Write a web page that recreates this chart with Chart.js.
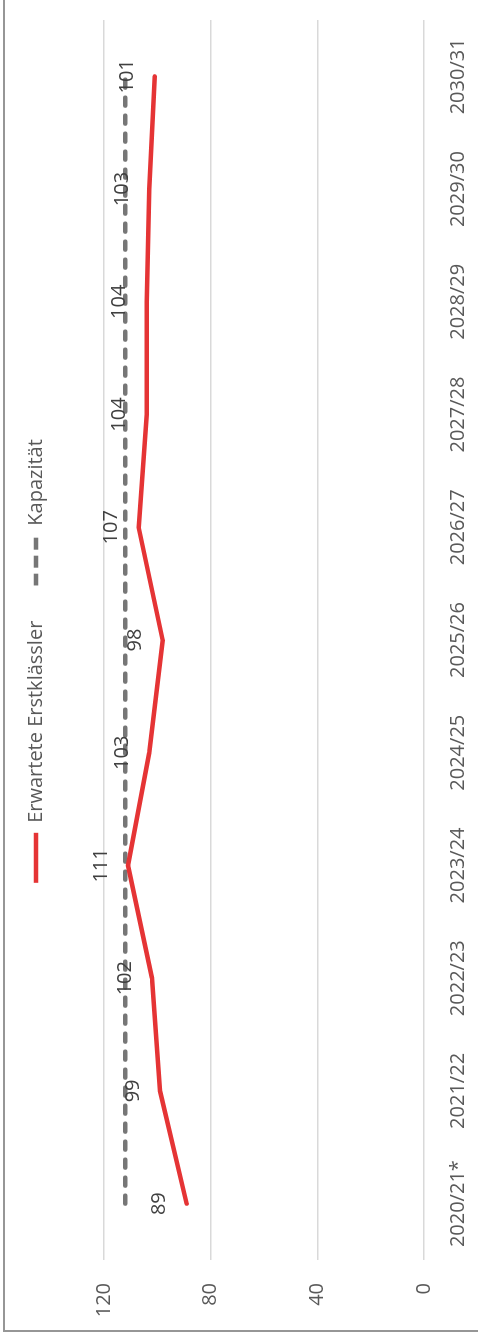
<!DOCTYPE html>
<html>
<head>
<meta charset="utf-8">
<script src="https://cdn.jsdelivr.net/npm/chart.js@4.4.1/dist/chart.umd.min.js"></script>
<style>
  html, body { margin: 0; padding: 0; background: #fff; }
  body { width: 478px; height: 1338px; position: relative; overflow: hidden; }
  #wrap {
    position: absolute; left: 0; top: 0;
    width: 1338px; height: 478px;
    transform-origin: 0 0;
    transform: translate(0, 1338px) rotate(-90deg);
  }
  .edge { position: absolute; background: #969696; }
</style>
</head>
<body>
<div id="wrap"><canvas id="chart" width="1338" height="478"></canvas></div>
<div class="edge" style="left:3px; top:0; width:2px; height:1332px;"></div>
<div class="edge" style="left:3px; top:1330px; width:475px; height:2px;"></div>
<script>
// Schuljahre und Werte
const schuljahre = ['2020/21*', '2021/22', '2022/23', '2023/24', '2024/25', '2025/26',
                    '2026/27', '2027/28', '2028/29', '2029/30', '2030/31'];
const erstklaessler = [89, 99, 102, 111, 103, 98, 107, 104, 104, 103, 101];
const kapazitaet = [112, 112, 112, 112, 112, 112, 112, 112, 112, 112, 112];
const yTicks = [0, 40, 80, 120];

const FONT = '"Open Sans"';
const RED = '#e53435';
const GREY = '#767676';

// gestricheltes Muster für das Legendensymbol der Kapazität
function dashPattern(ctx) {
    const c = document.createElement('canvas');
    c.width = 18; c.height = 2;
    const g = c.getContext('2d');
    g.fillStyle = GREY;
    g.fillRect(0, 0, 12, 2);
    return ctx.createPattern(c, 'repeat');
}

// ── Datenbeschriftungen über der roten Linie ─────────
const valueLabels = {
    id: 'valueLabels',
    afterDatasetsDraw(chart) {
        const meta = chart.getDatasetMeta(0);
        const ctx = chart.ctx;
        ctx.save();
        ctx.font = '20px ' + FONT;
        ctx.fillStyle = '#404040';
        ctx.textAlign = 'center';
        ctx.textBaseline = 'middle';
        meta.data.forEach((pt, i) => {
            ctx.fillText(String(erstklaessler[i]), pt.x, pt.y - 27);
        });
        ctx.restore();
    }
};

// Legende verschieben, Strichmuster am Symbol ausrichten
const legendTweak = {
    id: 'legendTweak',
    afterLayout(chart) {
        const lg = chart.legend;
        lg.top -= 9;
        lg.bottom -= 9;
        lg.left += 18;
        lg.right += 18;
    },
    beforeDraw(chart) {
        const lg = chart.legend;
        const hb = lg.legendHitBoxes && lg.legendHitBoxes[1];
        const item = lg.legendItems && lg.legendItems[1];
        if (hb && item && item.fillStyle instanceof CanvasPattern) {
            item.fillStyle.setTransform(new DOMMatrix().translateSelf(hb.left, 0));
        }
    }
};

const canvas = document.getElementById('chart');

new Chart(canvas, {
    type: 'line',
    data: {
        labels: schuljahre,
        datasets: [
            {
                label: 'Erwartete Erstklässler',
                data: erstklaessler,
                borderColor: RED,
                backgroundColor: RED,
                borderWidth: 4.5,
                pointRadius: 0,
                tension: 0,
                borderCapStyle: 'round',
                borderJoinStyle: 'round'
            },
            {
                label: 'Kapazität',
                data: kapazitaet,
                borderColor: GREY,
                backgroundColor: GREY,
                borderWidth: 4.5,
                borderDash: [8, 10],
                borderCapStyle: 'round',
                pointRadius: 0,
                tension: 0
            }
        ]
    },
    options: {
        responsive: false,
        animation: false,
        layout: { padding: { top: 0, left: 0, right: 20, bottom: 0 } },
        plugins: {
            legend: {
                position: 'top',
                labels: {
                    color: '#595959',
                    font: { family: FONT, size: 20 },
                    boxWidth: 50,
                    boxHeight: 4.5,
                    padding: 35,
                    generateLabels: chart => {
                        const items = Chart.defaults.plugins.legend.labels.generateLabels(chart);
                        items.forEach((it, i) => {
                            it.lineWidth = 0;
                            it.fillStyle = i === 0 ? RED : dashPattern(chart.ctx);
                        });
                        return items;
                    }
                }
            },
            subtitle: {
                display: true,
                text: '',
                weight: 500,
                font: { size: 10 },
                padding: { top: 0, bottom: 27 }
            },
            tooltip: { enabled: false }
        },
        scales: {
            x: {
                offset: true,
                grid: { display: false },
                border: { display: false },
                ticks: {
                    color: '#595959',
                    font: { family: FONT, size: 20 },
                    padding: 14,
                    maxRotation: 0,
                    autoSkip: false
                },
                afterFit: scale => { scale.height = 54; }
            },
            y: {
                min: 0,
                max: 120,
                afterBuildTicks: scale => {
                    scale.ticks = yTicks.map(v => ({ value: v }));
                },
                grid: { color: '#d9d9d9', lineWidth: 1.5, drawTicks: false },
                border: { display: false },
                ticks: {
                    color: '#595959',
                    font: { family: FONT, size: 20 },
                    padding: 23
                },
                afterFit: scale => { scale.width = 78; }
            }
        }
    },
    plugins: [valueLabels, legendTweak]
});
</script>
</body>
</html>
